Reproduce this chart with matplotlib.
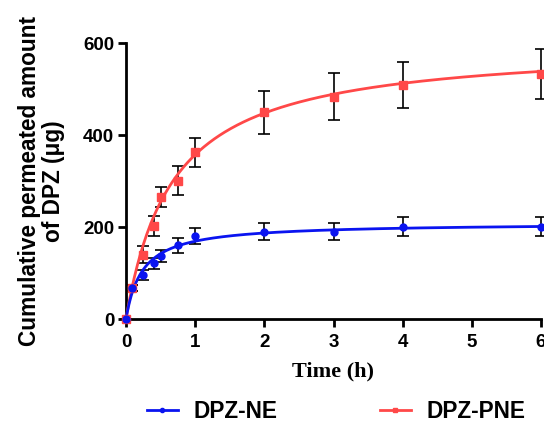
import numpy as np
import matplotlib
matplotlib.use("Agg")
import matplotlib.pyplot as plt
from matplotlib.lines import Line2D

# Data
time_h = [0, 0.083, 0.25, 0.4, 0.5, 0.75, 1, 2, 3, 4, 6]
ne_mean = [0, 67, 95, 121, 138, 160, 181, 190, 190, 201, 201]
ne_err = [0, 6, 11, 12, 13, 16, 17, 19, 18, 21, 21]
pne_mean = [0, 67, 140, 203, 265, 301, 362, 449, 483, 509, 533]
pne_err = [0, 6, 18, 22, 22, 31, 31, 46, 51, 50, 54]

# Hyperbolic fit parameters (Bmax, K)
ne_fit = (209, 0.236)
pne_fit = (599, 0.677)

x_ticks = [0, 1, 2, 3, 4, 5, 6]
y_ticks = [0, 200, 400, 600]
series_names = ["DPZ-NE", "DPZ-PNE"]

blue = "#0a14f0"
red = "#ff4848"

plt.rcParams['font.family'] = ['Liberation Sans', 'DejaVu Sans']

fig = plt.figure(figsize=(5.44, 4.23), dpi=100)
ax = fig.add_axes([126/544, 1 - 319/423, (541-126)/544, (319-43)/423])

tt = np.linspace(0, 6, 400)
for mean, err, fit, col, mk, ms in [
    (pne_mean, pne_err, pne_fit, red, 's', 5.5),
    (ne_mean, ne_err, ne_fit, blue, 'o', 5),
]:
    B, K = fit
    ax.plot(tt, B * tt / (K + tt), color=col, lw=2.0, zorder=3, clip_on=False)
    ax.errorbar(time_h, mean, yerr=err, fmt='none', ecolor='black',
                elinewidth=1.2, capsize=4, capthick=1.2, zorder=2, clip_on=False)
    ax.plot(time_h, mean, linestyle='none', marker=mk, ms=ms, color=col,
            zorder=4, clip_on=False)

ax.set_xlim(0, 6)
ax.set_ylim(0, 600)
ax.set_xticks(x_ticks)
ax.set_yticks(y_ticks)
for s in ['top', 'right']:
    ax.spines[s].set_visible(False)
for s in ['left', 'bottom']:
    ax.spines[s].set_linewidth(2.0)
ax.tick_params(width=2.0, length=5.5, labelsize=13.5, pad=3)
ax.tick_params(axis='x', pad=5)
for lab in ax.get_xticklabels() + ax.get_yticklabels():
    lab.set_fontweight('bold')

ax.set_xlabel("Time (h)", fontsize=16, fontweight='bold',
              family=['Liberation Serif', 'DejaVu Serif'], labelpad=8)
ax.set_ylabel("Cumulative permeated amount\nof DPZ (\u03bcg)", fontsize=16.3,
              fontweight='bold', linespacing=1.05, labelpad=13)

handles = [
    Line2D([], [], color=blue, lw=2, marker='o', ms=3),
    Line2D([], [], color=red, lw=2, marker='s', ms=3),
]
anchors = [147/544, 380/544]
for h, name, xa in zip(handles, series_names, anchors):
    leg = fig.legend([h], [name], loc='center left', bbox_to_anchor=(xa, 1 - 411/423),
                     frameon=False, prop={'weight': 'bold', 'size': 16.3},
                     handlelength=1.35, handletextpad=0.7, borderpad=0,
                     borderaxespad=0)

fig.savefig("out.png", dpi=100)
